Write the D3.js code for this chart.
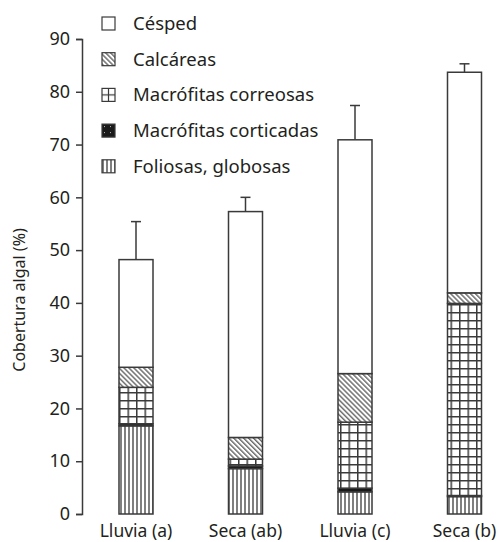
<!DOCTYPE html>
<html>
<head>
<meta charset="utf-8">
<script src="https://cdn.jsdelivr.net/npm/d3@7"></script>
<style>
  body { margin: 0; background: #fff; }
  text { font-family: "Noto Sans", sans-serif; fill: #231f20; }
</style>
</head>
<body>
<div id="chart"></div>
<script>
"use strict";

// data
var categories = ["Lluvia (a)", "Seca (ab)", "Lluvia (c)", "Seca (b)"];
var groups = ["Foliosas, globosas", "Macrófitas corticadas", "Macrófitas correosas", "Calcáreas", "Césped"];
var foliosas   = [16.7, 8.6, 4.2, 3.3];
var corticadas = [0.4, 0.5, 0.7, 0.2];
var correosas  = [6.9, 1.3, 12.5, 36.4];
var calcareas  = [3.8, 4.1, 9.2, 2.0];
var cesped     = [20.4, 42.8, 44.3, 41.8];
var errUp      = [7.2, 2.7, 6.5, 1.6];
var yTicks     = [0, 10, 20, 30, 40, 50, 60, 70, 80, 90];

var series = [foliosas, corticadas, correosas, calcareas, cesped];
var fills = ["url(#pFol)", "url(#pCort)", "url(#pCorr)", "url(#pCalc)", "#fff"];
var ink = "#3a3a3a";

var width = 498, height = 542;

var svg = d3.select("#chart").append("svg")
	.attr("width", width)
	.attr("height", height);

// == patterns ==
var defs = svg.append("defs");

var pFol = defs.append("pattern").attr("id", "pFol")
	.attr("patternUnits", "userSpaceOnUse").attr("width", 4).attr("height", 4);
pFol.append("rect").attr("width", 4).attr("height", 4).attr("fill", "#fff");
pFol.append("line").attr("x1", 1).attr("x2", 1).attr("y1", 0).attr("y2", 4)
	.attr("stroke", ink).attr("stroke-width", 1.3);

var pCorr = defs.append("pattern").attr("id", "pCorr")
	.attr("patternUnits", "userSpaceOnUse").attr("width", 8.5).attr("height", 8);
pCorr.append("rect").attr("width", 8.5).attr("height", 8).attr("fill", "#fff");
pCorr.append("line").attr("x1", 0).attr("x2", 8.5).attr("y1", 0.75).attr("y2", 0.75)
	.attr("stroke", ink).attr("stroke-width", 1.5);
pCorr.append("line").attr("x1", 0.75).attr("x2", 0.75).attr("y1", 0).attr("y2", 8)
	.attr("stroke", ink).attr("stroke-width", 1.5);

// legend icon for correosas is a single cross, not the grid
var pCorrKey = defs.append("pattern").attr("id", "pCorrKey")
	.attr("patternUnits", "objectBoundingBox").attr("width", 1).attr("height", 1);
pCorrKey.append("rect").attr("width", 13).attr("height", 13).attr("fill", "#fff");
pCorrKey.append("line").attr("x1", 6.5).attr("x2", 6.5).attr("y1", 0).attr("y2", 13)
	.attr("stroke", ink).attr("stroke-width", 1.2);
pCorrKey.append("line").attr("x1", 0).attr("x2", 13).attr("y1", 6.5).attr("y2", 6.5)
	.attr("stroke", ink).attr("stroke-width", 1.2);

var pCalc = defs.append("pattern").attr("id", "pCalc")
	.attr("patternUnits", "userSpaceOnUse").attr("width", 3.5).attr("height", 3.5)
	.attr("patternTransform", "rotate(45)");
pCalc.append("rect").attr("width", 3.5).attr("height", 3.5).attr("fill", "#fff");
pCalc.append("line").attr("x1", 0).attr("x2", 3.5).attr("y1", 1).attr("y2", 1)
	.attr("stroke", ink).attr("stroke-width", 1.1);

var pCort = defs.append("pattern").attr("id", "pCort")
	.attr("patternUnits", "userSpaceOnUse").attr("width", 6).attr("height", 6);
pCort.append("rect").attr("width", 6).attr("height", 6).attr("fill", "#1a1a1a");
pCort.append("rect").attr("x", 2).attr("y", 2).attr("width", 1).attr("height", 1).attr("fill", "#bbb");

// == scales ==
var x = d3.scalePoint().domain(categories).range([136, 464.5]);
var y = d3.scaleLinear().domain([0, 90]).range([514, 39]);
var barW = 34;

// y axis
var yAxis = svg.append("g")
	.attr("transform", "translate(82,0)")
	.call(d3.axisLeft(y).tickValues(yTicks).tickSize(6).tickPadding(6));
yAxis.select(".domain").attr("stroke", ink).attr("stroke-width", 1.5);
yAxis.selectAll(".tick line").attr("stroke", ink).attr("stroke-width", 1.5);
yAxis.selectAll(".tick text")
	.style("font-family", "'Noto Sans', sans-serif")
	.style("font-size", "18px")
	.attr("fill", "#231f20");

svg.append("text")
	.attr("transform", "translate(25,300) rotate(-90)")
	.attr("text-anchor", "middle")
	.style("font-size", "16px")
	.text("Cobertura algal (%)");

// stacked segments
var stackData = categories.map(function (c, i) {
	var row = { cat: c };
	groups.forEach(function (g, j) { row[g] = series[j][i]; });
	return row;
});
var stacked = d3.stack().keys(groups)(stackData);

// error bars first, so the bar outline sits on top
var totals = categories.map(function (c, i) {
	return d3.sum(series, function (s) { return s[i]; });
});
var err = svg.append("g").attr("stroke", ink).attr("stroke-width", 1.5);
categories.forEach(function (c, i) {
	var cx = x(c), top = y(totals[i] + errUp[i]);
	err.append("line").attr("x1", cx).attr("x2", cx)
		.attr("y1", y(totals[i])).attr("y2", top);
	err.append("line").attr("x1", cx - 5).attr("x2", cx + 5)
		.attr("y1", top).attr("y2", top);
});

stacked.forEach(function (layer, j) {
	svg.append("g").selectAll("rect")
		.data(layer)
		.enter().append("rect")
		.attr("x", function (d) { return x(d.data.cat) - barW / 2; })
		.attr("y", function (d) { return y(d[1]); })
		.attr("width", barW)
		.attr("height", function (d) { return y(d[0]) - y(d[1]); })
		.attr("fill", fills[j])
		.attr("stroke", ink)
		.attr("stroke-width", 1.5);
});

// category labels
svg.append("g").selectAll("text")
	.data(categories)
	.enter().append("text")
	.attr("x", function (d) { return x(d); })
	.attr("y", 537)
	.attr("text-anchor", "middle")
	.style("font-size", "17.5px")
	.text(function (d) { return d; });

// legend, top-down order
var legendOrder = groups.slice().reverse();
var keyFills = { "Macrófitas correosas": "url(#pCorrKey)" };
var legend = svg.append("g").attr("transform", "translate(102,17)");
legendOrder.forEach(function (g, k) {
	var row = legend.append("g").attr("transform", "translate(0," + (k * 35.7) + ")");
	row.append("rect")
		.attr("width", 13).attr("height", 13)
		.attr("fill", keyFills[g] || fills[groups.indexOf(g)])
		.attr("stroke", ink).attr("stroke-width", 1.2);
	row.append("text")
		.attr("x", 31).attr("y", 13)
		.style("font-size", "18.5px")
		.text(g);
});
</script>
</body>
</html>
